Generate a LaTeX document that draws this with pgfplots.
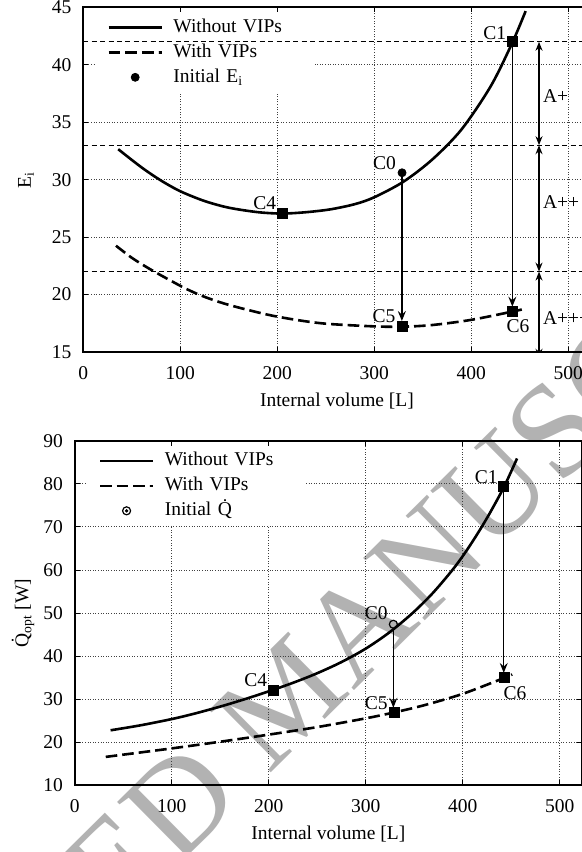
\documentclass[border=0pt]{standalone}
\usepackage{fontspec}
\setmainfont{Liberation Serif}
\usepackage{pgfplots}
\pgfplotsset{compat=1.18}
\usetikzlibrary{arrows.meta}

\newcommand\fs{\fontsize{9.75}{11.7}\selectfont}

\tikzset{
  arr/.style={line width=0.7pt, -{Stealth[length=5pt,width=4pt,inset=1.8pt]}},
  darr/.style={line width=0.7pt, {Stealth[length=4.5pt,width=3.5pt,inset=1.5pt]}-{Stealth[length=4.5pt,width=3.5pt,inset=1.5pt]}},
}

\pgfplotsset{
  chart/.style={
    scale only axis,
    width=253.66pt,
    xmin=0, xmax=523,
    xtick={0,100,...,500},
    grid=major,
    grid style={line width=0.5pt, dash pattern=on 0.5pt off 0.8pt, black!75},
    axis line style={line width=1pt},
    tick style={line width=0.5pt, black},
    major tick length=2.5pt,
    tick align=inside,
    /pgf/number format/assume math mode=true,
    ticklabel style={font=\fs},
    label style={font=\fs},
    xticklabel style={yshift=-3.8pt},
    yticklabel style={xshift=-2.5pt},
    xlabel={Internal volume [L]},
    xlabel style={at={(axis description cs:0.5,0)}, anchor=center, yshift=-24.5pt},
    legend cell align=left,
    legend image code/.code={\draw[mark repeat=2,mark phase=2,##1] plot coordinates {(0pt,0pt) (13.25pt,0pt) (26.5pt,0pt)};},
    legend style={at={(rel axis cs:0,1)}, anchor=north west, xshift=5.85pt, yshift=-2.6pt,
      fill=white, draw=none, inner xsep=6pt, inner ysep=2.7pt, row sep=3.5pt, column sep=5.2pt,
      font=\fs, nodes={inner sep=0pt, text height=7pt, text depth=2pt, text width=64.6pt}},
  },
  solidc/.style={black, line width=1.3pt, smooth, no markers},
  dashc/.style={black, line width=1.3pt, smooth, no markers, dash pattern=on 5.8pt off 2.5pt},
  sq/.style={only marks, mark=square*, mark size=2.5pt, black, forget plot},
  thr/.style={black, line width=0.5pt, dash pattern=on 2.5pt off 1.7pt, forget plot},
  dotcircle/.style={legend image code/.code={\draw[mark repeat=2,mark phase=2,##1] plot coordinates {(0pt,0pt) (13.25pt,0pt) (26.5pt,0pt)}; \fill (13.25pt,0pt) circle (0.5pt);}},
}

\begin{document}
\fs
\begin{tikzpicture}
% manuscript watermark, behind everything
\node[rotate=44.7, text=black!30, inner sep=0pt, font=\fontsize{67}{67}\selectfont]
  at (143.5pt,-348pt) {ACCEPTED MANUSCRIPT};

% ---------- top: E_i ----------
\begin{axis}[chart, at={(41.65pt,-176pt)}, anchor=south west, height=172.35pt,
  ymin=15, ymax=45, ytick={15,20,...,45},
  ylabel={E\textsubscript{i}},
  ylabel style={at={(axis description cs:-0.1129,0.5)}, anchor=center}]
\addplot[solidc] coordinates {(36,32.65) (60,31.07) (80,29.93) (100,28.99) (125,28.14) (150,27.56)
  (180,27.17) (205,27.05) (230,27.17) (255,27.42) (280,27.87) (300,28.47) (330,29.82) (360,31.77)
  (390,34.38) (420,38.13) (442,41.87) (456,44.67)};
\addlegendentry{Without VIPs}
\addplot[dashc] coordinates {(33.7,24.25) (50,23.2) (67,22.3) (86,21.4) (106,20.5) (125,19.8)
  (150,19.1) (190,18.25) (223,17.75) (252,17.45) (300,17.23) (329,17.2) (360,17.35) (400,17.8)
  (443,18.53) (452,18.7)};
\addlegendentry{With VIPs}
\addplot[only marks, mark=*, mark size=2pt, black] coordinates {(328.6,30.6)};
\addlegendentry{Initial E\textsubscript{i}}
\addplot[sq] coordinates {(442.3,42) (205.2,27.05) (328.6,17.23) (442.7,18.53)};
\addplot[arr, forget plot] coordinates {(328.4,30.6) (328.4,17.7)};
\addplot[arr, forget plot] coordinates {(442.3,42) (442.3,18.95)};
\addplot[darr, forget plot] coordinates {(469.8,42) (469.8,33)};
\addplot[darr, forget plot] coordinates {(469.8,33) (469.8,22)};
\addplot[darr, forget plot] coordinates {(469.8,22) (469.8,14.5)};
\node[font=\fs] at (axis cs:310.5,31.43) {C0};
\node[font=\fs] at (axis cs:424.1,42.74) {C1};
\node[font=\fs] at (axis cs:187.1,27.96) {C4};
\node[font=\fs] at (axis cs:310,18.13) {C5};
\node[font=\fs] at (axis cs:448.1,17.26) {C6};
\node[font=\fs, anchor=west, inner sep=0pt] at (axis cs:473.6,37.3) {A+};
\node[font=\fs, anchor=west, inner sep=0pt] at (axis cs:473.6,28.07) {A++};
\node[font=\fs, anchor=west, inner sep=0pt] at (axis cs:473.6,17.98) {A+++};
\end{axis}
% class limits, drawn over the key
\begin{axis}[at={(41.65pt,-176pt)}, anchor=south west, scale only axis,
  width=253.66pt, height=172.35pt, xmin=0, xmax=523, ymin=15, ymax=45, hide axis]
\addplot[thr] coordinates {(0,42) (600,42)};
\addplot[thr] coordinates {(0,33) (600,33)};
\addplot[thr] coordinates {(0,22) (600,22)};
\end{axis}

% ---------- bottom: Q_opt ----------
\begin{axis}[chart, at={(37.35pt,-392.65pt)}, anchor=south west, height=172.25pt,
  ymin=10, ymax=90, ytick={10,20,...,90},
  ylabel={{\.Q}\textsubscript{opt} [W]},
  ylabel style={at={(axis description cs:-0.1019,0.5)}, anchor=center}]
\addplot[solidc] coordinates {(37,22.78) (68,23.94) (100,25.38) (123,26.62) (150,28.28) (176,30.05)
  (205,32.2) (227,33.97) (250,36.03) (275,38.62) (300,41.74) (324,45.44) (348,49.94) (369,54.61)
  (390,60.18) (404,64.52) (418,69.42) (430,74.04) (443,79.5) (456,85.9)};
\addlegendentry{Without VIPs}
\addplot[dashc] coordinates {(32,16.6) (65,17.55) (100,18.57) (150,20.12) (200,21.77) (250,23.52)
  (300,25.55) (329,26.91) (360,28.58) (400,31.24) (443,34.96) (451,35.75)};
\addlegendentry{With VIPs}
\addplot[only marks, mark=o, mark size=2pt, line width=0.6pt, black, dotcircle] coordinates {(328.5,47.4)};
\addlegendentry{Initial {\.Q}}
\addplot[sq] coordinates {(442.3,79.35) (205.3,32.15) (329.4,26.9) (442.6,35.0)};
\addplot[arr, forget plot] coordinates {(328.5,46.5) (328.5,28.0)};
\addplot[arr, forget plot] coordinates {(442.3,79.35) (442.3,36.1)};
\node[font=\fs] at (axis cs:310.8,49.94) {C0};
\node[font=\fs] at (axis cs:424.2,81.6) {C1};
\node[font=\fs] at (axis cs:186.6,34.45) {C4};
\node[font=\fs] at (axis cs:310.8,29.1) {C5};
\node[font=\fs] at (axis cs:453.9,31.37) {C6};
\end{axis}
\pgfresetboundingbox
\path[use as bounding box] (0,0) rectangle (291pt,-426pt);
\end{tikzpicture}
\end{document}
